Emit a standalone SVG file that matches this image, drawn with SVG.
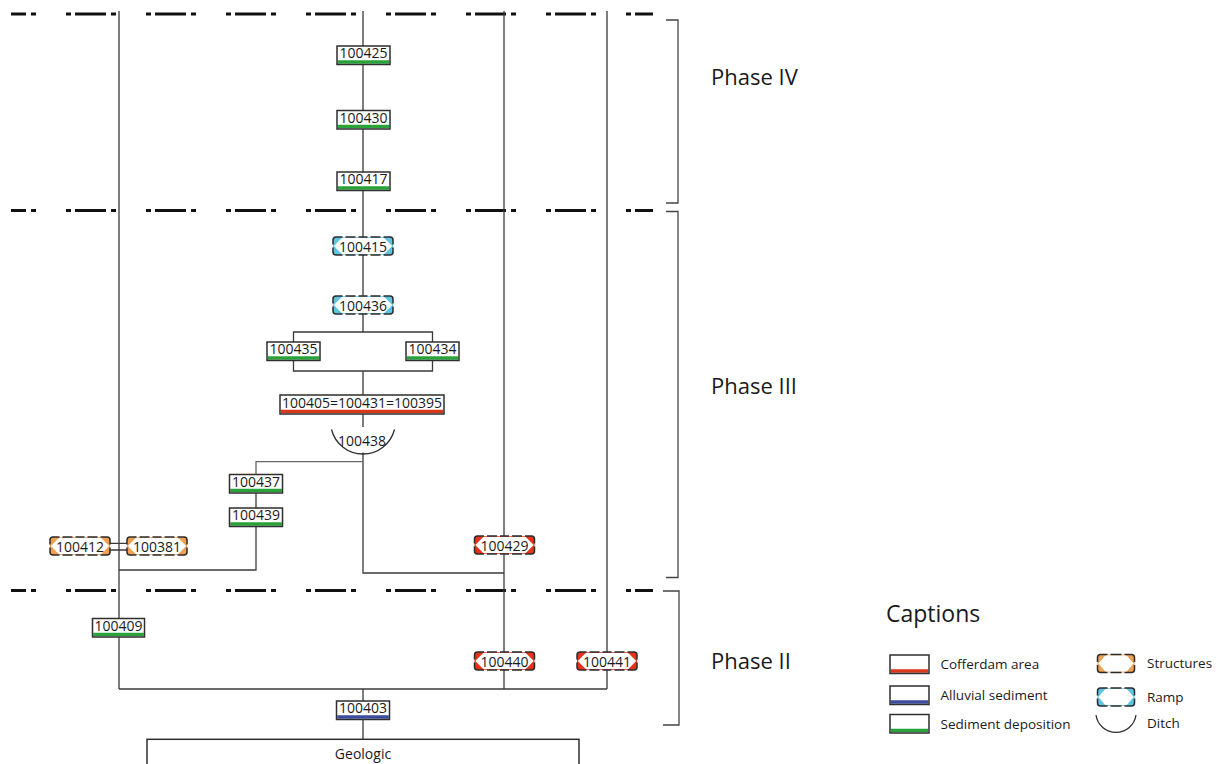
<svg xmlns="http://www.w3.org/2000/svg" xmlns:xlink="http://www.w3.org/1999/xlink" width="1218" height="764" viewBox="0 0 1218 764">
<style>
.bg{fill:#fff}
.bx{fill:none;stroke:#2e2e2e;stroke-width:1.5}
.g{fill:#2aa23a}.r{fill:#d9371c}.b{fill:#3b4b9e}
.t{font-family:"Open Sans","Liberation Sans",sans-serif;font-size:14px;fill:#1a1a1a;text-anchor:middle}
.ln{stroke:#3a3a3a;stroke-width:1.3;fill:none}
.ph{stroke:#111;stroke-width:3;stroke-dasharray:5 4 31 5 5 30;stroke-dashoffset:25;fill:none}
.br{stroke:#444;stroke-width:1.3;fill:none}
.lab{font-family:"Open Sans","Liberation Sans",sans-serif;font-size:22px;fill:#1a1a1a}
.lg{font-family:"Open Sans","Liberation Sans",sans-serif;font-size:13.5px;fill:#1a1a1a}
.dsh{fill:none;stroke:#2b2b2b;stroke-width:1.5}
.or{color:#f0a052}.bl{color:#5ec4e4}.rd{color:#e8321c}
</style>
<defs>
<g id="dn">
<rect x="0" y="0" width="60" height="18" rx="3" fill="currentColor"/>
<polygon points="0.8,9 9,0.8 51,0.8 59.2,9 51,17.2 9,17.2" fill="#fff"/>
<path class="dsh" d="M0,7.5V3Q0,0 3,0H9.5M12.5,0H22.5M25.5,0H34.5M37.5,0H47.5M50.5,0H57Q60,0 60,3V7.5M60,10.5V15Q60,18 57,18H50.5M47.5,18H37.5M34.5,18H25.5M22.5,18H12.5M9.5,18H3Q0,18 0,15V10.5"/>
</g>
<g id="dlg">
<rect x="0" y="0" width="37" height="18" rx="3" fill="currentColor"/>
<polygon points="0.8,9 8,0.8 29,0.8 36.2,9 29,17.2 8,17.2" fill="#fff"/>
<path class="dsh" d="M0,7.5V3Q0,0 3,0H10M13,0H24M27,0H34Q37,0 37,3V7.5M37,10.5V15Q37,18 34,18H27M24,18H13M10,18H3Q0,18 0,15V10.5"/>
</g>
</defs>
<rect width="1218" height="764" fill="#fff"/>

<g id="phase-lines">
<path class="ph" d="M11,14H653M11,210.5H653M11,590.5H653"/>
<path class="br" d="M666,20H678V203H666M666,211.5H678V577.5H666M663,591H679V725H663"/>
</g>

<g id="connectors">
<path class="ln" d="M119,11V689M363,11V332M504,11V689M607,11V689M119,689H607"/>
<path class="ln" d="M293.5,342V332H432.5V342M293.5,361V371H432.5V361M363,371V395M363,414V427"/>
<path class="ln" d="M363,452.5V573H504"/>
<path class="ln" style="stroke:#666" d="M363,461.7H256V474.5"/>
<path class="ln" d="M256,493V508M256,526.5V570H119"/>
<path class="ln" d="M110,543.3H127M110,550H127"/>
<path class="ln" d="M363,689V701M363,719.5V739.3"/>
</g>

<g id="n100425"><rect class="bg" x="337" y="46" width="53" height="18.5"/><rect class="g" x="337.75" y="60.25" width="51.5" height="3.5"/><rect class="bx" x="337" y="46" width="53" height="18.5"/><text class="t" x="363.5" y="58">100425</text></g>
<g id="n100430"><rect class="bg" x="337" y="110.5" width="53" height="18.5"/><rect class="g" x="337.75" y="124.75" width="51.5" height="3.5"/><rect class="bx" x="337" y="110.5" width="53" height="18.5"/><text class="t" x="363.5" y="122.5">100430</text></g>
<g id="n100417"><rect class="bg" x="337" y="172" width="53" height="18.5"/><rect class="g" x="337.75" y="186.25" width="51.5" height="3.5"/><rect class="bx" x="337" y="172" width="53" height="18.5"/><text class="t" x="363.5" y="184">100417</text></g>

<g id="n100415"><use xlink:href="#dn" href="#dn" class="bl" x="333" y="237"/><text class="t" x="363" y="251.5">100415</text></g>
<g id="n100436"><use xlink:href="#dn" href="#dn" class="bl" x="333" y="296"/><text class="t" x="363" y="310.5">100436</text></g>

<g id="n100435"><rect class="bg" x="267" y="342" width="53" height="18.5"/><rect class="g" x="267.75" y="356.25" width="51.5" height="3.5"/><rect class="bx" x="267" y="342" width="53" height="18.5"/><text class="t" x="293.5" y="354">100435</text></g>
<g id="n100434"><rect class="bg" x="406" y="342" width="53" height="18.5"/><rect class="g" x="406.75" y="356.25" width="51.5" height="3.5"/><rect class="bx" x="406" y="342" width="53" height="18.5"/><text class="t" x="432.5" y="354">100434</text></g>

<g id="n100405"><rect class="bg" x="280" y="395" width="164" height="19"/><rect class="r" x="280.75" y="409.75" width="162.5" height="3.5"/><rect class="bx" x="280" y="395" width="164" height="19"/><text class="t" x="362" y="407.5">100405=100431=100395</text></g>

<g id="n100438"><path class="ln" style="stroke:#2e2e2e" d="M331.5,429.5A32.5,32.5 0 0 0 394.5,429.5"/><text class="t" x="362" y="445.5">100438</text></g>

<g id="n100437"><rect class="bg" x="229.5" y="474.5" width="53" height="18.5"/><rect class="g" x="230.25" y="488.75" width="51.5" height="3.5"/><rect class="bx" x="229.5" y="474.5" width="53" height="18.5"/><text class="t" x="256" y="486.5">100437</text></g>
<g id="n100439"><rect class="bg" x="229.5" y="508" width="53" height="18.5"/><rect class="g" x="230.25" y="522.25" width="51.5" height="3.5"/><rect class="bx" x="229.5" y="508" width="53" height="18.5"/><text class="t" x="256" y="520">100439</text></g>

<g id="n100412"><use xlink:href="#dn" href="#dn" class="or" x="50" y="537"/><text class="t" x="80" y="551.5">100412</text></g>
<g id="n100381"><use xlink:href="#dn" href="#dn" class="or" x="127" y="537"/><text class="t" x="157" y="551.5">100381</text></g>

<g id="n100429"><use xlink:href="#dn" href="#dn" class="rd" x="474.5" y="536"/><text class="t" x="504.5" y="550.5">100429</text></g>

<g id="n100409"><rect class="bg" x="92.5" y="618.5" width="52" height="18.5"/><rect class="g" x="93.25" y="632.75" width="50.5" height="3.5"/><rect class="bx" x="92.5" y="618.5" width="52" height="18.5"/><text class="t" x="118.5" y="630.5">100409</text></g>

<g id="n100440"><use xlink:href="#dn" href="#dn" class="rd" x="474.5" y="652"/><text class="t" x="504.5" y="666.5">100440</text></g>
<g id="n100441"><use xlink:href="#dn" href="#dn" class="rd" x="577" y="652"/><text class="t" x="607" y="666.5">100441</text></g>

<g id="n100403"><rect class="bg" x="336.5" y="701" width="53" height="18.5"/><rect class="b" x="337.25" y="715.25" width="51.5" height="3.5"/><rect class="bx" x="336.5" y="701" width="53" height="18.5"/><text class="t" x="363" y="713">100403</text></g>

<g id="geologic"><rect class="bg" x="147" y="739.3" width="432" height="40"/><rect class="bx" x="147" y="739.3" width="432" height="40"/><text class="t" x="363" y="758.5">Geologic</text></g>

<g id="phase-labels">
<text class="lab" x="711" y="85">Phase IV</text>
<text class="lab" x="711" y="394">Phase III</text>
<text class="lab" x="711" y="669">Phase II</text>
</g>

<g id="legend">
<text class="lab" x="886" y="622" style="font-size:23px">Captions</text>
<rect class="bg" x="890" y="655" width="39" height="18.5"/><rect class="r" x="890.75" y="669.25" width="37.5" height="3.5"/><rect class="bx" x="890" y="655" width="39" height="18.5"/>
<text class="lg" x="940.5" y="668.5">Cofferdam area</text>
<rect class="bg" x="890" y="686" width="39" height="18.5"/><rect class="b" x="890.75" y="700.25" width="37.5" height="3.5"/><rect class="bx" x="890" y="686" width="39" height="18.5"/>
<text class="lg" x="940.5" y="700">Alluvial sediment</text>
<rect class="bg" x="890" y="714.5" width="39" height="18.5"/><rect class="g" x="890.75" y="728.75" width="37.5" height="3.5"/><rect class="bx" x="890" y="714.5" width="39" height="18.5"/>
<text class="lg" x="940.5" y="728.5">Sediment deposition</text>
<use xlink:href="#dlg" href="#dlg" class="or" x="1097.5" y="654.5"/>
<text class="lg" x="1147" y="668">Structures</text>
<use xlink:href="#dlg" href="#dlg" class="bl" x="1097.5" y="688"/>
<text class="lg" x="1147" y="701.5">Ramp</text>
<path class="ln" style="stroke:#2e2e2e" d="M1096,715A20.2,20.2 0 0 0 1136,715"/>
<text class="lg" x="1147" y="728">Ditch</text>
</g>
</svg>
